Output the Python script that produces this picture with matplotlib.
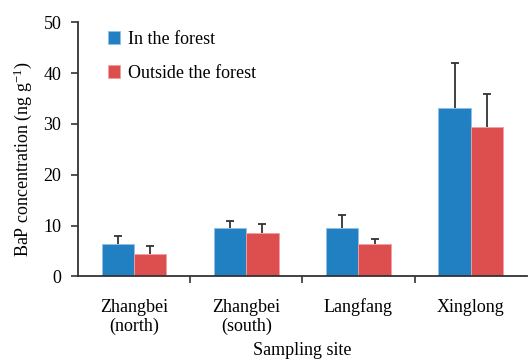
import matplotlib
matplotlib.use("Agg")
import matplotlib.pyplot as plt
import numpy as np

sites = ["Zhangbei\n(north)", "Zhangbei\n(south)", "Langfang", "Xinglong"]
in_forest = [6.3, 9.45, 9.45, 33.2]
in_forest_err = [1.7, 1.5, 2.65, 8.7]
outside_forest = [4.4, 8.5, 6.3, 29.3]
outside_forest_err = [1.6, 1.8, 1.0, 6.5]
y_ticks = [0, 10, 20, 30, 40, 50]

plt.rcParams["font.family"] = ["Liberation Serif", "DejaVu Serif"]
plt.rcParams["mathtext.fontset"] = "custom"
plt.rcParams["mathtext.rm"] = "Liberation Serif"

fig = plt.figure(figsize=(5.28, 3.6), dpi=100)
ax = fig.add_axes([0.1477, 0.2325, 0.85, 0.7055])

x = np.arange(len(sites))
w = 0.288
blue = "#2180c1"
red = "#dd4f4f"
axis_col = "#333333"

ax.bar(x - w / 2, in_forest, w, color=blue, edgecolor="#8fc0e6", linewidth=0.6,
       label="In the forest", zorder=2)
ax.bar(x + w / 2, outside_forest, w, color=red, edgecolor="#f0a0a0", linewidth=0.6,
       label="Outside the forest", zorder=2)

# upward-only error bars (no cap at the bar top)
for xs, vals, errs in [(x - w / 2, in_forest, in_forest_err),
                       (x + w / 2, outside_forest, outside_forest_err)]:
    eb = ax.errorbar(xs, vals, yerr=[np.zeros(len(vals)), errs], fmt="none",
                     ecolor=axis_col, elinewidth=1.3, capsize=2.8, capthick=1.3, zorder=3)
    eb[1][0].set_visible(False)

ax.set_xlim(-0.5, len(sites) - 0.5)
ax.set_ylim(0, 50)
ax.set_yticks(y_ticks)
ax.set_yticklabels([str(t) for t in y_ticks], fontsize=13)

# category labels centred, tick marks at the boundaries between sites
ax.set_xticks(x)
ax.set_xticklabels(sites, fontsize=13)
ax.set_xticks(np.arange(len(sites) - 1) + 0.5, minor=True)
ax.tick_params(axis="x", which="major", length=0, pad=16)
ax.tick_params(axis="x", which="minor", length=5, width=1.2, color=axis_col, direction="out")
ax.tick_params(axis="y", length=5, width=1.2, color=axis_col, direction="out", pad=7)

for s in ["top", "right"]:
    ax.spines[s].set_visible(False)
for s in ["left", "bottom"]:
    ax.spines[s].set_color(axis_col)
    ax.spines[s].set_linewidth(1.3)

ax.set_ylabel("BaP concentration (ng g$\\mathregular{^{-1}}$)", fontsize=13)
ax.yaxis.set_label_coords(-0.098, 0.46)
ax.set_xlabel("Sampling site", fontsize=13, labelpad=5)

leg = ax.legend(loc="upper left", bbox_to_anchor=(0.03, 1.03), frameon=False,
                fontsize=13, handlelength=0.7, handleheight=0.7, handletextpad=0.4,
                labelspacing=0.95)

fig.savefig("out.png", dpi=100)
